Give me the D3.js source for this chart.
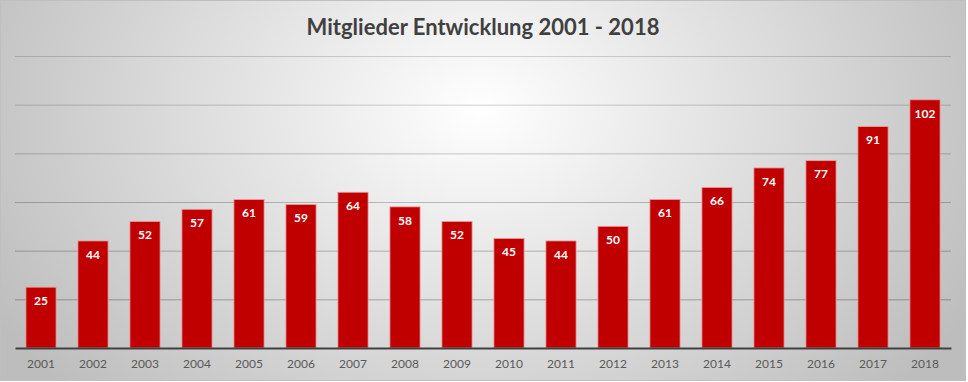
<!DOCTYPE html>
<html>
<head>
<meta charset="utf-8">
<script src="https://cdn.jsdelivr.net/npm/d3@7"></script>
<style>
  body { margin: 0; background: #fff; }
  svg { display: block; font-family: Lato, "Open Sans", sans-serif; }
</style>
</head>
<body>
<div id="chart"></div>
<script>
const years = ["2001","2002","2003","2004","2005","2006","2007","2008","2009",
  "2010","2011","2012","2013","2014","2015","2016","2017","2018"];
const members = [25, 44, 52, 57, 61, 59, 64, 58, 52, 45, 44, 50, 61, 66, 74, 77, 91, 102];
const yTicks = [0, 20, 40, 60, 80, 100, 120];
const title = "Mitglieder Entwicklung 2001 - 2018";

const width = 968, height = 382;
const margin = { top: 56, right: 17, bottom: 34, left: 15 };

const svg = d3.select("#chart").append("svg")
  .attr("width", width).attr("height", height);

// background gradient like the excel chart area
const defs = svg.append("defs");
const grad = defs.append("radialGradient")
  .attr("id", "bg").attr("gradientUnits", "userSpaceOnUse")
  .attr("cx", 480).attr("cy", 110).attr("r", 560)
  .attr("gradientTransform", "translate(480,110) scale(1,0.75) translate(-480,-110)");
grad.append("stop").attr("offset", "0%").attr("stop-color", "#ffffff");
grad.append("stop").attr("offset", "100%").attr("stop-color", "#bdbdbd");

svg.append("rect")
  .attr("x", 0.5).attr("y", 0.5).attr("width", 965).attr("height", 380)
  .attr("fill", "url(#bg)").attr("stroke", "#bfbfbf");

const x = d3.scaleBand().domain(years)
  .range([margin.left, width - margin.right]).paddingInner(0.42).paddingOuter(0.21);
const y = d3.scaleLinear().domain([0, 120])
  .range([height - margin.bottom, margin.top]);

// gridlines
svg.append("g")
  .attr("transform", `translate(${margin.left},0)`)
  .call(d3.axisLeft(y).tickValues(yTicks.slice(1)).tickSize(-(width - margin.left - margin.right)).tickFormat(""))
  .call(g => g.select(".domain").remove())
  .call(g => g.selectAll(".tick line").attr("stroke", "#000")
    .attr("stroke-opacity", d => 0.3 - d * 0.0012));

// bars
svg.append("g").selectAll("rect")
  .data(members)
  .join("rect")
  .attr("x", (d, i) => x(years[i]))
  .attr("y", d => y(d))
  .attr("width", x.bandwidth())
  .attr("height", d => y(0) - y(d))
  .attr("fill", "#c00000")
  .attr("stroke", "#e8a0a0")
  .attr("stroke-width", 0.8);

// value labels
svg.append("g").selectAll("text")
  .data(members)
  .join("text")
  .attr("x", (d, i) => x(years[i]) + x.bandwidth() / 2)
  .attr("y", d => y(d) + 14)
  .attr("dy", "0.32em")
  .attr("text-anchor", "middle")
  .attr("fill", "#fff")
  .attr("font-weight", "bold")
  .attr("font-size", "12px")
  .text(d => d);

// x axis
svg.append("g")
  .attr("transform", `translate(0,${y(0)})`)
  .call(d3.axisBottom(x).tickSize(0).tickPadding(11))
  .call(g => g.select(".domain").attr("stroke", "#404040").attr("stroke-width", 2))
  .call(g => g.selectAll("text").attr("fill", "#595959").attr("font-size", "12px")
    .attr("font-family", "Lato, sans-serif"));

// title
svg.append("text")
  .attr("x", 483).attr("y", 27)
  .attr("text-anchor", "middle")
  .attr("dy", "0.35em")
  .attr("fill", "#404040")
  .attr("font-weight", "bold")
  .attr("font-size", "22px")
  .text(title);
</script>
</body>
</html>
